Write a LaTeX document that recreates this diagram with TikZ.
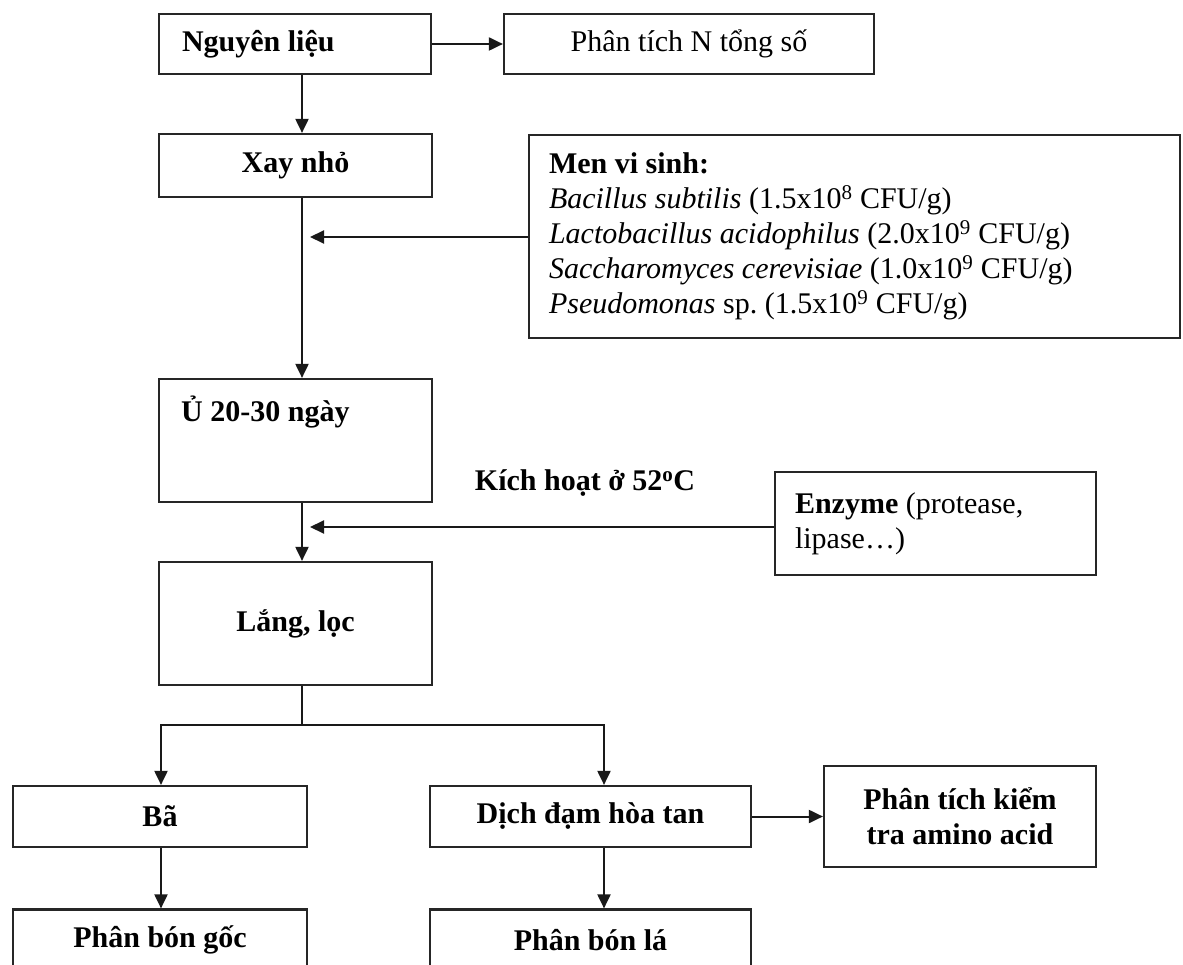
\documentclass[tikz,border=0pt]{standalone}
\usepackage{fontspec}
\setmainfont{Liberation Serif}
\frenchspacing
\usetikzlibrary{arrows.meta}
\newcommand{\natsp}{\spaceskip=0.25em plus 0.1em minus 0.05em\relax}
\begin{document}
\begin{tikzpicture}[x=1pt,y=-1pt,
  every node/.style={font=\fontsize{30}{35}\selectfont},
  box/.style={draw=black!85, line width=2.2pt, rectangle, inner sep=0pt, align=center},
  bbox/.style={box, font=\fontsize{30}{35}\selectfont\bfseries},
  conn/.style={draw=black!90, line width=2pt},
  arr/.style={conn, -{Triangle[length=14pt,width=13pt]}}
]
\useasboundingbox (0,0) rectangle (1183,965);
\clip (0,0) rectangle (1183,965);
% nodes
\node[bbox, minimum width=272, minimum height=60, text width=226, inner xsep=23, align=left] (nl) at (295,44) {\natsp Nguyên liệu};
\node[box, minimum width=370, minimum height=60] (ptn) at (689,44) {Phân tích N tổng số};
\node[bbox, minimum width=273, minimum height=63] (xay) at (295.5,165.5) {Xay nhỏ};
\node[box, minimum width=651, minimum height=203, text width=611, inner xsep=20, align=left] (men) at (854.5,236.5)
  {\natsp\textbf{Men vi sinh:}\\
   \textit{Bacillus subtilis} (1.5x10\textsuperscript{8} CFU/g)\\
   \textit{Lactobacillus acidophilus} (2.0x10\textsuperscript{9} CFU/g)\\
   \textit{Saccharomyces cerevisiae} (1.0x10\textsuperscript{9} CFU/g)\\
   \textit{Pseudomonas} sp. (1.5x10\textsuperscript{9} CFU/g)};
\node[box, minimum width=273, minimum height=123] (u) at (295.5,440.5) {};
\node[anchor=base west, inner sep=0pt, font=\fontsize{30}{35}\selectfont\bfseries] (ut) at (181,421) {Ủ 20-30 ngày};
\node[inner sep=0pt, font=\fontsize{30}{35}\selectfont\bfseries] (kh) at (585,483) {Kích hoạt ở 52\textsuperscript{o}C};
\node[box, minimum width=321, minimum height=103, text width=281, inner xsep=20, align=left] (enz) at (935.5,523.5)
  {\natsp\textbf{Enzyme} (protease,\\lipase…)};
\node[bbox, minimum width=273, minimum height=123] (lang) at (295.5,623.5) {Lắng, lọc};
\node[bbox, minimum width=294, minimum height=61] (ba) at (160,816.5) {Bã};
\node[bbox, minimum width=321, minimum height=61] (dich) at (590.5,816.5) {Dịch đạm hòa tan};
\node[bbox, minimum width=272, minimum height=101] (ptk) at (960,816.5) {Phân tích kiểm\\tra amino acid};
\node[bbox, minimum width=294, minimum height=61] (pbg) at (160,940) {Phân bón gốc};
\node[bbox, minimum width=321, minimum height=61] (pbl) at (590.5,940) {Phân bón lá};
% helper coordinates
\coordinate (mtip) at (310,237);
\coordinate (etip) at (310,527);
\coordinate (split) at (302,725);
\coordinate (lb) at (161,725);
\coordinate (rb) at (604,725);
% connectors
\draw[arr] (nl.east) -- (ptn.west);
\draw[arr] (nl.south -| split) -- (xay.north -| split);
\draw[arr] (xay.south -| split) -- (u.north -| split);
\draw[arr] (men.west |- mtip) -- (mtip);
\draw[arr] (u.south -| split) -- (lang.north -| split);
\draw[arr] (enz.west |- etip) -- (etip);
\draw[conn] (lang.south -| split) -- (split);
\draw[arr] (split) -- (lb) -- (ba.north -| lb);
\draw[arr] (split) -- (rb) -- (dich.north -| rb);
\draw[arr] (ba.south -| lb) -- (pbg.north -| lb);
\draw[arr] (dich.south -| rb) -- (pbl.north -| rb);
\draw[arr] (dich.east) -- (ptk.west |- dich.east);
\end{tikzpicture}
\end{document}
